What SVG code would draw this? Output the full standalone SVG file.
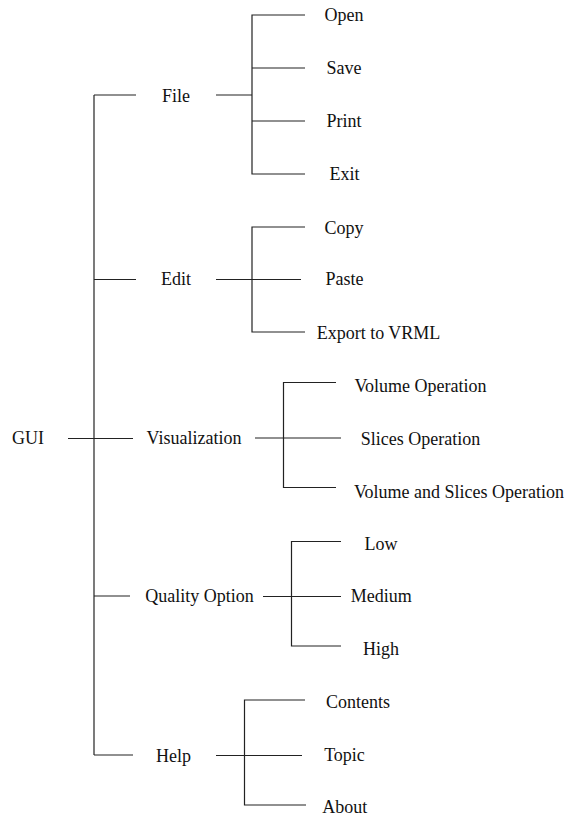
<svg xmlns="http://www.w3.org/2000/svg" width="572" height="818" viewBox="0 0 572 818">
<style>
text{font-size:18px;fill:#111;text-anchor:middle}
.c line,.c path{stroke:#222;stroke-width:1.2;fill:none}
</style>
<rect width="572" height="818" fill="#fff"/>
<g class="c" id="connectors">
<line x1="94" y1="95" x2="94" y2="755"/>
<line x1="68" y1="438.5" x2="133" y2="438.5"/>
<line x1="94" y1="95" x2="136" y2="95"/>
<line x1="94" y1="279.5" x2="136" y2="279.5"/>
<line x1="94" y1="596" x2="130" y2="596"/>
<line x1="94" y1="755" x2="133" y2="755"/>
<line x1="216" y1="95" x2="252" y2="95"/>
<path d="M305,15 H252 V174 H305"/>
<line x1="252" y1="68" x2="305" y2="68"/>
<line x1="252" y1="121" x2="305" y2="121"/>
<line x1="216" y1="279.5" x2="301" y2="279.5"/>
<path d="M305,227 H252 V332 H305"/>
<line x1="255" y1="438" x2="341" y2="438"/>
<path d="M336,382.5 H283.5 V487.5 H336"/>
<line x1="263" y1="596.5" x2="341" y2="596.5"/>
<path d="M341,541.5 H291.5 V646 H341"/>
<line x1="216" y1="755.5" x2="302" y2="755.5"/>
<path d="M305,700 H244.5 V805 H306"/>
</g>
<g font-family="Liberation Serif, Times New Roman, DejaVu Serif, serif">
<g id="gui"><text x="28" y="444">GUI</text></g>
<g id="file"><text x="176" y="101.5">File</text></g>
<g id="open"><text x="344" y="21">Open</text></g>
<g id="save"><text x="344" y="74">Save</text></g>
<g id="print"><text x="344" y="127">Print</text></g>
<g id="exit"><text x="344.5" y="179.5">Exit</text></g>
<g id="edit"><text x="176" y="285">Edit</text></g>
<g id="copy"><text x="344" y="233.5">Copy</text></g>
<g id="paste"><text x="344.5" y="285">Paste</text></g>
<g id="export"><text x="378.5" y="338.5">Export to VRML</text></g>
<g id="visualization"><text x="194" y="444">Visualization</text></g>
<g id="volume-op"><text x="420.5" y="392">Volume Operation</text></g>
<g id="slices-op"><text x="420.5" y="445">Slices Operation</text></g>
<g id="vol-slices-op"><text x="459" y="497.5">Volume and Slices Operation</text></g>
<g id="quality"><text x="199.5" y="601.5">Quality Option</text></g>
<g id="low"><text x="381" y="550">Low</text></g>
<g id="medium"><text x="381.3" y="601.5">Medium</text></g>
<g id="high"><text x="381" y="654.5">High</text></g>
<g id="help"><text x="173.5" y="761.5">Help</text></g>
<g id="contents"><text x="358" y="707.5">Contents</text></g>
<g id="topic"><text x="344.5" y="760.5">Topic</text></g>
<g id="about"><text x="344.7" y="813">About</text></g>
</g>
</svg>
